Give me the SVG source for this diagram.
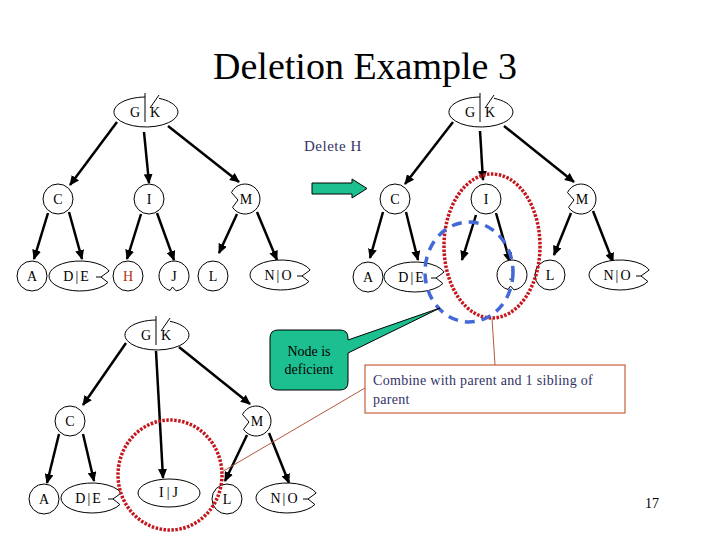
<svg xmlns="http://www.w3.org/2000/svg" xmlns:xlink="http://www.w3.org/1999/xlink" width="720" height="540" viewBox="0 0 720 540">
<style>
.nd{fill:#fff;stroke:#000;stroke-width:1}
.tx{font-family:"Liberation Serif","Times New Roman",serif;font-size:14px;fill:#000;text-anchor:middle}
.wide{letter-spacing:2px}
.cn line{stroke:#000;stroke-width:2.5;marker-end:url(#ah)}
.navy{fill:#333366;font-family:"Liberation Serif","Times New Roman",serif}
.reddot{fill:none;stroke:#C4161C;stroke-width:3.5;stroke-dasharray:2.5 1.5}
.bluedash{fill:none;stroke:#4468D6;stroke-width:3.5;stroke-dasharray:10 7}
.brown{stroke:#B4583C;stroke-width:1;fill:none}
</style>
<defs>
<marker id="ah" markerWidth="10" markerHeight="9" refX="9" refY="4.5" orient="auto" markerUnits="userSpaceOnUse">
<path d="M0,0 L10,4.5 L0,9 z" fill="#000"/>
</marker>
<path id="wedgeTop" d="M -1 -15 A 32 15 0 1 0 13 -13.7 M -1 -19 L -1 10 M 13 -17 L 4 -4"/>
<path id="notchLeft" d="M -13.5 -6.5 L -7 1 L -12.5 8.3 A 15 15 0 1 0 -13.5 -6.5 Z"/>
<path id="notchRight" d="M 29.2 -5 L 21 1 L 27.9 6.5 A 31 15 0 1 1 29.2 -5 Z M 16 1 L 21 1"/>
<path id="notchBottom" d="M 2 14.87 A 15 15 0 1 0 -4 14.46 L -1.5 11 Z"/>
</defs>
<rect width="720" height="540" fill="#fff"/>
<text x="365" y="79" font-family="'Liberation Serif','Times New Roman',serif" font-size="38" text-anchor="middle" fill="#000">Deletion Example 3</text>
<text x="304" y="151" class="navy" font-size="15" letter-spacing="0.5">Delete H</text>
<g id="arrow-green"><path d="M312 183 H352 V179 L367 188.5 L352 198 V194 H312 Z" fill="#1CBF8F" stroke="#000" stroke-width="1"/></g>

<g class="cn" id="connectors">
<line x1="117" y1="122" x2="70" y2="185"/>
<line x1="144" y1="132" x2="149" y2="183"/>
<line x1="168" y1="126" x2="239" y2="182"/>
<line x1="48" y1="213" x2="34" y2="259"/>
<line x1="69" y1="212" x2="82" y2="259"/>
<line x1="141" y1="214" x2="127" y2="259"/>
<line x1="157" y1="213" x2="174" y2="260"/>
<line x1="237" y1="214" x2="219" y2="253"/>
<line x1="257" y1="212" x2="277" y2="260"/>

<line x1="453" y1="122" x2="405" y2="184"/>
<line x1="480" y1="131" x2="483" y2="180"/>
<line x1="504" y1="126" x2="574" y2="182"/>
<line x1="383" y1="212" x2="370" y2="258"/>
<line x1="406" y1="212" x2="418" y2="260"/>
<line x1="476" y1="215" x2="462" y2="260"/>
<line x1="496" y1="213" x2="510" y2="262"/>
<line x1="571" y1="213" x2="554" y2="255"/>
<line x1="593" y1="211" x2="613" y2="262"/>

<line x1="126" y1="343" x2="83" y2="405"/>
<line x1="156" y1="351" x2="163" y2="478"/>
<line x1="179" y1="347" x2="250" y2="404"/>
<line x1="59" y1="434" x2="47" y2="483"/>
<line x1="83" y1="434" x2="94" y2="481"/>
<line x1="247" y1="435" x2="225" y2="481"/>
<line x1="269" y1="433" x2="289" y2="483"/>
</g>

<!-- top-left tree -->
<g id="tl-GK" transform="translate(146,112)"><use xlink:href="#wedgeTop" href="#wedgeTop" class="nd" fill="none"/><text class="tx" x="-11" y="5">G</text><text class="tx" x="9" y="5">K</text></g>
<g id="tl-C"><circle cx="58" cy="199" r="15" class="nd"/><text class="tx" x="58" y="204">C</text></g>
<g id="tl-I"><circle cx="149" cy="199" r="15" class="nd"/><text class="tx" x="149" y="204">I</text></g>
<g id="tl-M" transform="translate(245,199)"><use href="#notchLeft" xlink:href="#notchLeft" class="nd"/><text class="tx" x="1" y="5">M</text></g>
<g id="tl-A"><circle cx="32" cy="276" r="15" class="nd"/><text class="tx" x="32" y="281">A</text></g>
<g id="tl-DE" transform="translate(80,276)"><use href="#notchRight" xlink:href="#notchRight" class="nd"/><text class="tx wide" x="-3" y="5">D|E</text></g>
<g id="tl-H"><circle cx="128" cy="276" r="15" class="nd"/><text class="tx" x="128" y="281" style="fill:#B03020">H</text></g>
<g id="tl-J" transform="translate(174,276)"><use href="#notchBottom" xlink:href="#notchBottom" class="nd"/><text class="tx" x="0" y="5">J</text></g>
<g id="tl-L"><circle cx="213" cy="276" r="15" class="nd"/><text class="tx" x="213" y="281">L</text></g>
<g id="tl-NO" transform="translate(281,275)"><use href="#notchRight" xlink:href="#notchRight" class="nd"/><text class="tx wide" x="-2" y="5">N|O</text></g>

<!-- top-right tree -->
<g id="tr-GK" transform="translate(481,112)"><use href="#wedgeTop" xlink:href="#wedgeTop" class="nd" fill="none"/><text class="tx" x="-11" y="5">G</text><text class="tx" x="9" y="5">K</text></g>
<g id="tr-C"><circle cx="395" cy="199" r="15" class="nd"/><text class="tx" x="395" y="204">C</text></g>
<g id="tr-I"><circle cx="486" cy="199" r="15" class="nd"/><text class="tx" x="486" y="204">I</text></g>
<g id="tr-M" transform="translate(581,199)"><use href="#notchLeft" xlink:href="#notchLeft" class="nd"/><text class="tx" x="1" y="5">M</text></g>
<g id="tr-A"><circle cx="368" cy="277" r="15" class="nd"/><text class="tx" x="368" y="282">A</text></g>
<g id="tr-DE" transform="translate(415,277)"><use href="#notchRight" xlink:href="#notchRight" class="nd"/><text class="tx wide" x="-3" y="5">D|E</text></g>
<g id="tr-J" transform="translate(512,275)"><use href="#notchBottom" xlink:href="#notchBottom" class="nd"/><text class="tx" x="0" y="5">J</text></g>
<g id="tr-L"><circle cx="550" cy="275" r="15" class="nd"/><text class="tx" x="550" y="280">L</text></g>
<g id="tr-NO" transform="translate(620,275)"><use href="#notchRight" xlink:href="#notchRight" class="nd"/><text class="tx wide" x="-2" y="5">N|O</text></g>

<!-- bottom tree -->
<g id="b-GK" transform="translate(157,335)"><use href="#wedgeTop" xlink:href="#wedgeTop" class="nd" fill="none"/><text class="tx" x="-11" y="5">G</text><text class="tx" x="9" y="5">K</text></g>
<g id="b-C"><circle cx="70" cy="421" r="15" class="nd"/><text class="tx" x="70" y="426">C</text></g>
<g id="b-M" transform="translate(256,421)"><use href="#notchLeft" xlink:href="#notchLeft" class="nd"/><text class="tx" x="1" y="5">M</text></g>
<g id="b-A"><circle cx="44" cy="499" r="15" class="nd"/><text class="tx" x="44" y="504">A</text></g>
<g id="b-DE" transform="translate(92,498)"><use href="#notchRight" xlink:href="#notchRight" class="nd"/><text class="tx wide" x="-3" y="5">D|E</text></g>
<g id="b-IJ"><ellipse cx="169" cy="493" rx="31" ry="14" class="nd"/><text class="tx" x="170" y="497" letter-spacing="3">I|J</text></g>
<g id="b-L"><circle cx="227" cy="499" r="15" class="nd"/><text class="tx" x="227" y="504">L</text></g>
<g id="b-NO" transform="translate(287,498)"><use href="#notchRight" xlink:href="#notchRight" class="nd"/><text class="tx wide" x="-2" y="5">N|O</text></g>

<!-- highlights -->
<g id="highlights">
<ellipse cx="492" cy="246" rx="48" ry="72" class="reddot"/>
<ellipse cx="469" cy="272" rx="44" ry="50" class="bluedash"/>
<ellipse cx="170" cy="475" rx="52" ry="55" class="reddot"/>
</g>

<!-- callouts -->
<g id="callout-deficient">
<path d="M278 330 H340 Q348 330 348 338 V340 L440 308 L348 353 V382 Q348 390 340 390 H278 Q270 390 270 382 V338 Q270 330 278 330 Z" fill="#1CBF8F" stroke="#000" stroke-width="1"/>
<text class="tx" x="309" y="356">Node is</text>
<text class="tx" x="309" y="374">deficient</text>
</g>
<g id="callout-combine">
<line x1="492" y1="318" x2="495" y2="365" class="brown"/>
<line x1="365" y1="388" x2="220" y2="473" class="brown"/>
<rect x="365" y="365" width="260" height="48" fill="#fff" stroke="#C8613A" stroke-width="1.2"/>
<text x="373" y="385" class="navy" font-size="14" letter-spacing="0.3">Combine with parent and 1 sibling of</text>
<text x="373" y="404" class="navy" font-size="14" letter-spacing="0.3">parent</text>
</g>
<text x="652" y="508" font-family="'Liberation Serif','Times New Roman',serif" font-size="14" text-anchor="middle" fill="#000">17</text>
</svg>
